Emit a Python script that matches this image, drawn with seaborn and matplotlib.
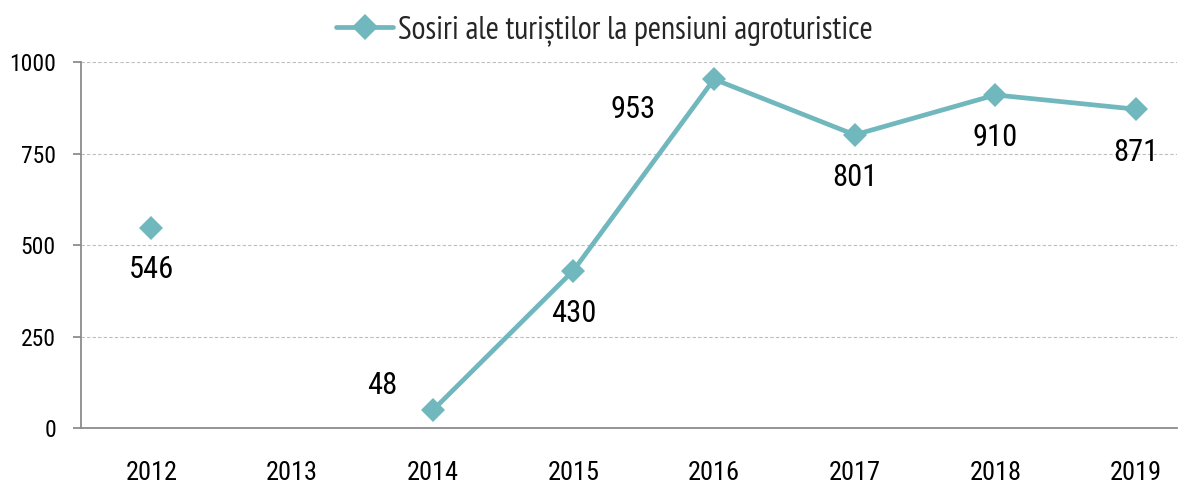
import numpy as np
import pandas as pd
import matplotlib
matplotlib.use("Agg")
import matplotlib.pyplot as plt
import seaborn as sns
from matplotlib.lines import Line2D

years = ["2012", "2013", "2014", "2015", "2016", "2017", "2018", "2019"]
arrivals = [546, np.nan, 48, 430, 953, 801, 910, 871]
series_name = "Sosiri ale turiștilor la pensiuni agroturistice"

# label offsets in points (dx, dy) relative to each marker
label_offsets = {
    "2012": (0, -30), "2014": (-36, 18), "2015": (0, -31), "2016": (-58, -22),
    "2017": (0, -31), "2018": (0, -31), "2019": (0, -31),
}

color = "#70B8BD"

sns.set_theme(style="white")
plt.rcParams["font.family"] = ["Roboto Condensed", "DejaVu Sans"]

df = pd.DataFrame({"year": years, "pos": range(len(years)), "value": arrivals})
# split into continuous runs so gaps are not bridged
df["run"] = df["value"].isna().cumsum()
df = df.dropna(subset=["value"])

fig = plt.figure(figsize=(11.9, 4.84), dpi=100)
ax = fig.add_axes([0.068, 0.1157, 0.921, 0.7562])

sns.lineplot(data=df, x="pos", y="value", units="run", estimator=None,
             color=color, linewidth=3.4, marker="D", markersize=12,
             markeredgewidth=0, ax=ax, legend=False)

ax.set_xlim(-0.5, len(years) - 0.71)
ax.set_ylim(0, 1000)
ax.set_yticks([0, 250, 500, 750, 1000])
ax.set_xticks(range(len(years)))
ax.set_xticklabels(years)
ax.set_xlabel("")
ax.set_ylabel("")

ax.yaxis.grid(True, color="#BDBDBD", linestyle=(0, (3, 2)), linewidth=0.8)
ax.xaxis.grid(False)
for side in ["top", "right"]:
    ax.spines[side].set_visible(False)
for side in ["left", "bottom"]:
    ax.spines[side].set_color("#8C8C8C")
    ax.spines[side].set_linewidth(1.3)
ax.tick_params(axis="y", left=True, length=6, width=1.3, color="#8C8C8C",
               labelsize=17, pad=12, labelcolor="black")
ax.tick_params(axis="x", bottom=False, labelsize=19, pad=18, labelcolor="black")

for _, row in df.iterrows():
    dx, dy = label_offsets[row["year"]]
    ax.annotate(f"{int(row['value'])}", (row["pos"], row["value"]),
                xytext=(dx, dy), textcoords="offset points",
                ha="center", va="center", fontsize=22, color="black")

handle = Line2D([], [], color=color, linewidth=3.4, marker="D", markersize=13,
                markeredgewidth=0)
fig.legend([handle], [series_name], loc="center", bbox_to_anchor=(0.508, 0.937),
           frameon=False, prop={"family": "PT Sans Narrow", "size": 23},
           handlelength=1.8, handletextpad=0.15)

fig.savefig("out.png", dpi=100)
